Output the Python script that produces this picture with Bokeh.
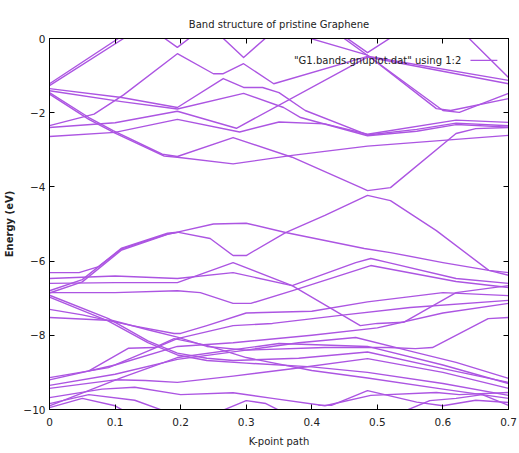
from bokeh.plotting import figure
from bokeh.models import Range1d, FixedTicker, LinearAxis, Label, ColumnDataSource
from bokeh.embed import file_html
from bokeh.resources import INLINE

# Band energies (eV) along the k-point path; each band is a list of (k, E) nodes.
upper_bands = [
    [(0, -1.22), (0.105, 0.0), (0.13, 0.3)],
    [(0, -1.27), (0.113, 0.0), (0.138, 0.3)],
    [(0.16, 0.2), (0.195, -0.24), (0.235, 0.3)],
    [(0.25, 0.25), (0.296, -0.51), (0.345, 0.25)],
    [(0, -2.35), (0.068, -2.04), (0.113, -1.52), (0.195, -0.41), (0.25, -0.95), (0.265, -0.95),
     (0.296, -0.68), (0.342, -1.22), (0.485, -0.48), (0.7, -1.13)],
    [(0, -1.35), (0.11, -1.59), (0.195, -1.86), (0.265, -1.08), (0.296, -1.32), (0.325, -1.32),
     (0.35, -1.46), (0.39, -1.94), (0.485, -2.6), (0.56, -2.45), (0.62, -2.28), (0.7, -2.35)],
    [(0, -1.41), (0.11, -1.7), (0.195, -1.9), (0.296, -1.48), (0.357, -1.86), (0.383, -2.13),
     (0.485, -2.62), (0.56, -2.5), (0.62, -2.32), (0.7, -2.39)],
    [(0, -2.4), (0.1, -2.27), (0.195, -1.96), (0.285, -2.42), (0.485, -0.5), (0.7, -1.22)],
    [(0, -2.64), (0.1, -2.53), (0.195, -2.18), (0.29, -2.52), (0.35, -2.25), (0.42, -2.3),
     (0.485, -2.58), (0.62, -2.2), (0.7, -2.26)],
    [(0, -1.5), (0.06, -2.18), (0.1, -2.55), (0.175, -3.17), (0.195, -3.2), (0.28, -3.38),
     (0.37, -3.15), (0.485, -2.9), (0.7, -2.61)],
    [(0, -1.46), (0.06, -2.13), (0.097, -2.48), (0.172, -3.12), (0.195, -3.18), (0.28, -2.67),
     (0.37, -3.2), (0.475, -4.02), (0.485, -4.1), (0.52, -4.02), (0.62, -2.56), (0.65, -2.43),
     (0.7, -2.4)],
    [(0.35, 0.25), (0.485, -0.45), (0.6, -1.94), (0.625, -1.99), (0.7, -1.48)],
    [(0.43, 0.25), (0.49, -0.52), (0.59, -1.89), (0.612, -1.94), (0.7, -1.62)],
    [(0.43, 0.3), (0.485, -0.38), (0.545, 0.3)],
    [(0.62, 0.3), (0.64, 0.0), (0.7, -1.05)],
]

middle_bands = [
    [(0, -6.31), (0.045, -6.31), (0.075, -6.15), (0.11, -5.67), (0.18, -5.27), (0.195, -5.23)],
    [(0, -6.8), (0.05, -6.5), (0.11, -5.65), (0.18, -5.25), (0.195, -5.22), (0.25, -5.0),
     (0.3, -4.98), (0.36, -5.23), (0.48, -5.66), (0.52, -5.77), (0.6, -6.04), (0.67, -6.25),
     (0.7, -6.31)],
    [(0, -6.86), (0.05, -6.56), (0.11, -5.7), (0.18, -5.28), (0.195, -5.22), (0.245, -5.39),
     (0.28, -5.85), (0.3, -5.85), (0.36, -5.23), (0.42, -4.77), (0.485, -4.23), (0.52, -4.37),
     (0.59, -5.18), (0.67, -6.25), (0.7, -6.38)],
    [(0, -6.47), (0.1, -6.4), (0.195, -6.47), (0.28, -6.31), (0.37, -6.66), (0.467, -6.04),
     (0.49, -5.93), (0.517, -6.04), (0.62, -6.47), (0.7, -6.6)],
    [(0, -6.6), (0.1, -6.58), (0.195, -6.58), (0.28, -6.04), (0.37, -6.66), (0.474, -7.74),
     (0.5, -7.68), (0.54, -7.65), (0.62, -6.85), (0.7, -6.66)],
    [(0, -6.85), (0.1, -6.85), (0.195, -6.8), (0.23, -6.85), (0.28, -7.14), (0.307, -7.14),
     (0.372, -6.79), (0.49, -6.12), (0.62, -6.55), (0.7, -6.71)],
]

lower_bands = [
    [(0, -6.92), (0.09, -7.55), (0.15, -8.15), (0.195, -8.48), (0.24, -8.62), (0.28, -8.68),
     (0.38, -8.62), (0.485, -8.45), (0.6, -8.9), (0.7, -9.27)],
    [(0, -6.97), (0.09, -7.62), (0.15, -8.2), (0.195, -8.53), (0.24, -8.68), (0.3, -8.75),
     (0.4, -8.85), (0.485, -9.0), (0.6, -9.3), (0.7, -9.62)],
    [(0, -7.3), (0.05, -7.45), (0.126, -7.74), (0.19, -7.95), (0.2, -7.95), (0.24, -7.74),
     (0.3, -7.4), (0.4, -7.35), (0.485, -7.1), (0.6, -6.85), (0.7, -6.93)],
    [(0, -7.52), (0.096, -7.6), (0.15, -7.85), (0.195, -8.05), (0.24, -8.3), (0.3, -8.4),
     (0.38, -8.2), (0.467, -8.06), (0.558, -8.46), (0.62, -8.73), (0.7, -9.16)],
    [(0, -9.14), (0.09, -8.87), (0.195, -8.09), (0.28, -7.74), (0.34, -7.68), (0.45, -7.45),
     (0.55, -7.25), (0.7, -7.06)],
    [(0, -9.2), (0.1, -8.8), (0.195, -8.3), (0.28, -8.2), (0.4, -8.0), (0.5, -7.8),
     (0.6, -7.4), (0.7, -7.14)],
    [(0, -9.35), (0.1, -9.05), (0.195, -8.65), (0.3, -8.4), (0.42, -8.33), (0.517, -8.33),
     (0.558, -8.36), (0.584, -8.33), (0.669, -7.55), (0.7, -7.52)],
    [(0, -9.43), (0.1, -9.2), (0.146, -9.22), (0.195, -9.27), (0.28, -9.1), (0.37, -8.9),
     (0.485, -8.63), (0.6, -9.0), (0.7, -9.43)],
    [(0, -9.68), (0.08, -9.45), (0.13, -9.4), (0.2, -9.6), (0.28, -9.55), (0.34, -9.7),
     (0.42, -9.9), (0.49, -9.62), (0.59, -9.54), (0.625, -9.6), (0.7, -9.54)],
    [(0, -9.84), (0.06, -9.6), (0.13, -9.75), (0.2, -10.2)],
    [(0, -9.95), (0.05, -9.7), (0.1, -9.9), (0.13, -10.2)],
    [(0, -9.9), (0.11, -9.14), (0.195, -8.6), (0.35, -8.22), (0.485, -8.3), (0.6, -8.8),
     (0.7, -9.3)],
    [(0.06, -8.96), (0.12, -8.35), (0.16, -8.33), (0.19, -8.09), (0.24, -8.27), (0.3, -8.6),
     (0.4, -8.95), (0.485, -9.15), (0.6, -9.45), (0.7, -9.7)],
    [(0.24, -10.2), (0.3, -9.76), (0.33, -9.84), (0.37, -10.2)],
    [(0.41, -9.89), (0.43, -9.89), (0.485, -9.49), (0.56, -9.8), (0.6, -9.9), (0.65, -9.75),
     (0.7, -9.81)],
    [(0.52, -10.2), (0.58, -9.76), (0.62, -9.7), (0.66, -9.6), (0.7, -9.89)],
]

k_ticks = [0, 0.1, 0.2, 0.3, 0.4, 0.5, 0.6, 0.7]
k_tick_labels = ["0", "0.1", "0.2", "0.3", "0.4", "0.5", "0.6", "0.7"]
e_ticks = [-10, -8, -6, -4, -2, 0]

series_label = '"G1.bands.gnuplot.dat" using 1:2'
band_color = "#ac55e2"
font = "DejaVu Sans"

p = figure(
    width=519, height=453,
    min_border_left=49, min_border_right=11, min_border_top=38, min_border_bottom=44,
    x_range=Range1d(0, 0.7), y_range=Range1d(-10, 0),
    output_backend="svg", toolbar_location=None,
    title="Band structure of pristine Graphene",
)
p.title.align = "center"
p.title.text_font = font
p.title.text_font_size = "10px"
p.title.text_font_style = "normal"
p.title.text_color = "#222222"
p.title.offset = 0
p.title.standoff = 17

p.grid.visible = False
p.outline_line_color = "black"
p.outline_line_width = 1
p.background_fill_color = "white"
p.border_fill_color = "white"

all_bands = upper_bands + middle_bands + lower_bands
src = ColumnDataSource(dict(
    xs=[[pt[0] for pt in b] for b in all_bands],
    ys=[[pt[1] for pt in b] for b in all_bands],
))
p.multi_line("xs", "ys", source=src, line_color=band_color, line_width=1.4,
             line_join="round")

for ax in (p.xaxis[0], p.yaxis[0]):
    ax.major_tick_in = 5
    ax.major_tick_out = 0
    ax.minor_tick_in = 0
    ax.minor_tick_out = 0
    ax.axis_line_color = "black"
    ax.major_label_text_font = font
    ax.major_label_text_font_size = "10.5px"
    ax.major_label_text_color = "#222222"
    ax.axis_label_text_font = font
    ax.axis_label_text_font_size = "10px"
    ax.axis_label_text_font_style = "normal"
    ax.axis_label_text_color = "#222222"

p.xaxis[0].ticker = FixedTicker(ticks=k_ticks)
p.xaxis[0].major_label_overrides = dict(zip(k_ticks, k_tick_labels))
p.xaxis[0].axis_label = "K-point path"
p.xaxis[0].major_label_standoff = 8
p.xaxis[0].axis_label_standoff = 7
p.yaxis[0].ticker = FixedTicker(ticks=e_ticks)
p.yaxis[0].axis_label = "Energy (eV)"
p.yaxis[0].axis_label_text_font_style = "bold"
p.yaxis[0].major_label_standoff = 4
p.yaxis[0].axis_label_standoff = 5

# mirrored ticks on the top and right edges of the frame, without labels
top = LinearAxis(ticker=FixedTicker(ticks=k_ticks),
                 major_label_overrides={t: "" for t in k_ticks},
                 major_tick_in=5, major_tick_out=0, minor_tick_in=0, minor_tick_out=0,
                 major_label_standoff=0)
right = LinearAxis(ticker=FixedTicker(ticks=e_ticks),
                   major_label_overrides={t: "" for t in e_ticks},
                   major_tick_in=5, major_tick_out=0, minor_tick_in=0, minor_tick_out=0,
                   major_label_standoff=0)
p.add_layout(top, "above")
p.add_layout(right, "right")

# gnuplot-style key: label text followed by a line sample
p.add_layout(Label(x=0.628, y=-0.59, text=series_label, text_align="right",
                   text_baseline="middle", text_font=font, text_font_size="10px",
                   text_color="#222222"))
p.segment(x0=[0.642], y0=[-0.59], x1=[0.683], y1=[-0.59], line_color=band_color, line_width=1.4)

open("out.html", "w").write(file_html(p, INLINE))
